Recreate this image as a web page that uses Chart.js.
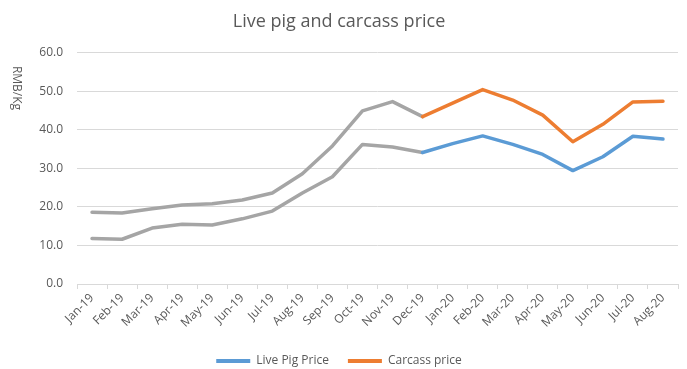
<!DOCTYPE html>
<html>
<head>
<meta charset="utf-8">
<script src="https://cdn.jsdelivr.net/npm/chart.js@4.4.0/dist/chart.umd.min.js"></script>
<style>
    body { margin: 0; background: #fff; }
    #wrap { width: 687px; height: 369px; }
</style>
</head>
<body>
<div id="wrap"><canvas id="pigChart" width="687" height="369"></canvas></div>
<script>
// data (RMB/Kg)
const months = ['Jan-19', 'Feb-19', 'Mar-19', 'Apr-19', 'May-19', 'Jun-19', 'Jul-19', 'Aug-19', 'Sep-19', 'Oct-19',
    'Nov-19', 'Dec-19', 'Jan-20', 'Feb-20', 'Mar-20', 'Apr-20', 'May-20', 'Jun-20', 'Jul-20', 'Aug-20'];
const livePig = [11.8, 11.6, 14.5, 15.5, 15.3, 16.9, 18.9, 23.6, 27.8, 36.2,
    35.5, 34.1, 36.4, 38.4, 36.2, 33.6, 29.4, 33.0, 38.3, 37.6];
const carcass = [18.6, 18.4, 19.5, 20.5, 20.8, 21.8, 23.6, 28.6, 35.8, 44.9,
    47.3, 43.4, 46.9, 50.4, 47.7, 43.8, 36.9, 41.4, 47.2, 47.4];
const yTicks = [0, 10, 20, 30, 40, 50, 60];
const greyUntil = 11; // segments up to Dec-19 are drawn grey

const FONT = "'Open Sans', 'Liberation Sans', sans-serif";
const TEXT = '#595959';
const GREY = '#a5a5a5';

function greySegment(ctx) {
    return ctx.p1DataIndex <= greyUntil ? GREY : undefined;
}

// y axis title reads top to bottom, so draw it by hand
const yTitlePlugin = {
    id: 'yTitle',
    afterDraw(chart) {
        const c = chart.ctx;
        c.save();
        c.translate(16, 88);
        c.rotate(Math.PI / 2);
        c.fillStyle = TEXT;
        c.font = '12px ' + FONT;
        c.textAlign = 'center';
        c.textBaseline = 'middle';
        c.fillText('RMB/Kg', 0, 0);
        c.restore();
    }
};

const ctx = document.getElementById('pigChart').getContext('2d');
new Chart(ctx, {
    type: 'line',
    data: {
        labels: months,
        datasets: [{
            label: 'Live Pig Price',
            data: livePig,
            borderColor: '#5b9bd5',
            backgroundColor: '#5b9bd5',
            borderWidth: 3.5,
            pointRadius: 0,
            tension: 0,
            borderJoinStyle: 'round',
            borderCapStyle: 'round',
            segment: { borderColor: greySegment }
        }, {
            label: 'Carcass price',
            data: carcass,
            borderColor: '#ed7d31',
            backgroundColor: '#ed7d31',
            borderWidth: 3.5,
            pointRadius: 0,
            tension: 0,
            borderJoinStyle: 'round',
            borderCapStyle: 'round',
            segment: { borderColor: greySegment }
        }]
    },
    options: {
        responsive: false,
        animation: false,
        layout: { padding: { left: 0, right: 9, top: 0, bottom: -8 } },
        plugins: {
            title: {
                display: true,
                text: 'Live pig and carcass price',
                color: TEXT,
                font: { family: FONT, size: 18, weight: 'normal' },
                padding: { top: 11, bottom: 20 }
            },
            legend: {
                position: 'bottom',
                labels: {
                    color: TEXT,
                    font: { family: FONT, size: 12 },
                    boxWidth: 34,
                    boxHeight: 4,
                    padding: 19,
                    generateLabels(chart) {
                        return Chart.defaults.plugins.legend.labels.generateLabels(chart).map(item => {
                            item.lineWidth = 0;
                            return item;
                        });
                    }
                }
            },
            tooltip: { enabled: false }
        },
        scales: {
            x: {
                offset: true,
                grid: {
                    offset: true,
                    drawOnChartArea: false,
                    drawTicks: true,
                    tickLength: 5,
                    color: '#d9d9d9'
                },
                border: { color: '#d9d9d9' },
                ticks: {
                    color: TEXT,
                    font: { family: FONT, size: 12 },
                    maxRotation: 45,
                    minRotation: 45,
                    autoSkip: false,
                    padding: 2
                },
                afterFit(scale) { scale.height = 52; }
            },
            y: {
                min: yTicks[0],
                max: yTicks[yTicks.length - 1],
                afterBuildTicks(scale) {
                    scale.ticks = yTicks.map(v => ({ value: v }));
                },
                grid: { color: '#d9d9d9', drawTicks: false },
                border: { display: false },
                ticks: {
                    color: TEXT,
                    font: { family: FONT, size: 12 },
                    padding: 14,
                    callback: v => v.toFixed(1)
                },
                afterFit(scale) { scale.width = 77; }
            }
        }
    },
    plugins: [yTitlePlugin]
});
</script>
</body>
</html>
